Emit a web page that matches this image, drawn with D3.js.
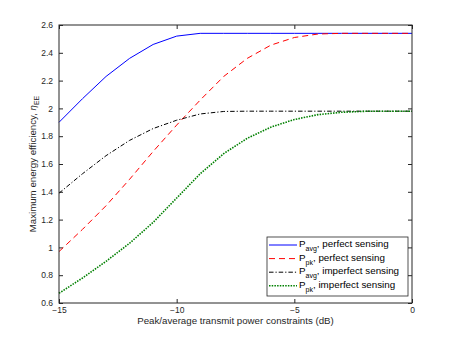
<!DOCTYPE html>
<html>
<head>
<meta charset="utf-8">
<script src="https://cdn.jsdelivr.net/npm/d3@7"></script>
<style>
  body { margin: 0; background: #fff; }
  svg { font-family: "Liberation Sans", Arial, sans-serif; }
</style>
</head>
<body>
<div id="chart"></div>
<script>
// Peak/average power constraint (dB) vs maximum energy efficiency

const xValues = [-15, -14, -13, -12, -11, -10, -9, -8, -7, -6, -5, -4, -3, -2, -1, 0];
const avgPerfect   = [1.90, 2.07, 2.23, 2.36, 2.46, 2.52, 2.54, 2.54, 2.54, 2.54, 2.54, 2.54, 2.54, 2.54, 2.54, 2.54];
const pkPerfect    = [0.97, 1.13, 1.30, 1.49, 1.69, 1.88, 2.06, 2.23, 2.36, 2.455, 2.51, 2.535, 2.54, 2.54, 2.54, 2.54];
const avgImperfect = [1.39, 1.53, 1.66, 1.77, 1.855, 1.915, 1.96, 1.978, 1.98, 1.98, 1.98, 1.98, 1.98, 1.98, 1.98, 1.98];
const pkImperfect  = [0.67, 0.78, 0.90, 1.03, 1.18, 1.355, 1.53, 1.675, 1.785, 1.865, 1.92, 1.955, 1.972, 1.979, 1.98, 1.98];

const xTicks = [-15, -10, -5, 0];
const yTicks = [0.6, 0.8, 1, 1.2, 1.4, 1.6, 1.8, 2, 2.2, 2.4, 2.6];

const series = [
    { sub: 'avg', label: ', perfect sensing',   values: avgPerfect,   color: '#0000ff', dash: null,          width: 1 },
    { sub: 'pk',  label: ', perfect sensing',   values: pkPerfect,    color: '#ff0000', dash: '6,4',         width: 1 },
    { sub: 'avg', label: ', imperfect sensing', values: avgImperfect, color: '#000000', dash: '4.5,2,1.2,2', width: 1 },
    { sub: 'pk',  label: ', imperfect sensing', values: pkImperfect,  color: '#008000', dash: '1.5,1.2',     width: 1.6 }
];

const width = 455, height = 341;
const margin = { top: 25, right: 43, bottom: 38, left: 59 };

const svg = d3.select('#chart').append('svg')
    .attr('width', width)
    .attr('height', height);

const x = d3.scaleLinear().domain([-15, 0]).range([margin.left, width - margin.right]);
const y = d3.scaleLinear().domain([0.6, 2.6]).range([height - margin.bottom, margin.top]);

const tickLen = 4;

// inward ticks on all sides, MATLAB style
const axisStyle = g => {
    g.select('.domain').remove();
    g.selectAll('.tick line').attr('stroke', '#262626');
    g.selectAll('.tick text').attr('fill', '#262626').style('font-size', '8.5px');
};

svg.append('g')
    .attr('transform', `translate(0,${y(0.6)})`)
    .call(d3.axisBottom(x).tickValues(xTicks).tickSize(-tickLen).tickPadding(3.5).tickFormat(d3.format('d')))
    .call(axisStyle);

svg.append('g')
    .attr('transform', `translate(0,${y(2.6)})`)
    .call(d3.axisTop(x).tickValues(xTicks).tickSize(-tickLen).tickFormat(''))
    .call(axisStyle);

svg.append('g')
    .attr('transform', `translate(${x(-15)},0)`)
    .call(d3.axisLeft(y).tickValues(yTicks).tickSize(-tickLen).tickPadding(6).tickFormat(d => d3.format('~g')(d)))
    .call(axisStyle);

svg.append('g')
    .attr('transform', `translate(${x(0)},0)`)
    .call(d3.axisRight(y).tickValues(yTicks).tickSize(-tickLen).tickFormat(''))
    .call(axisStyle);

// lines, straight segments between samples
const line = vals => d3.line()
    .x((d, i) => x(xValues[i]))
    .y(d => y(d))(vals);

series.forEach(s => {
    svg.append('path')
        .attr('d', line(s.values))
        .attr('fill', 'none')
        .attr('stroke', s.color)
        .attr('stroke-width', s.width)
        .attr('stroke-dasharray', s.dash);
});

// plot box
svg.append('rect')
    .attr('x', x(-15))
    .attr('y', y(2.6))
    .attr('width', x(0) - x(-15))
    .attr('height', y(0.6) - y(2.6))
    .attr('fill', 'none')
    .attr('stroke', '#262626')
    .attr('stroke-width', 1);

// legend
const legend = svg.append('g').attr('transform', 'translate(267,237)');
legend.append('rect')
    .attr('width', 141)
    .attr('height', 59)
    .attr('fill', '#fff')
    .attr('stroke', '#262626')
    .attr('stroke-width', 0.8);

series.forEach((s, i) => {
    const ry = 8 + i * 13.6;
    legend.append('line')
        .attr('x1', 2).attr('x2', 30)
        .attr('y1', ry).attr('y2', ry)
        .attr('stroke', s.color)
        .attr('stroke-width', s.width)
        .attr('stroke-dasharray', s.dash);
    const t = legend.append('text')
        .attr('x', 32)
        .attr('y', ry + 2)
        .attr('fill', '#000')
        .style('font-size', '9.8px');
    t.append('tspan').text('P');
    t.append('tspan').attr('dy', 4).style('font-size', '7px').text(s.sub);
    t.append('tspan').attr('dy', -4).text(s.label);
});

// axis labels
svg.append('text')
    .attr('x', (x(-15) + x(0)) / 2)
    .attr('y', 324)
    .attr('text-anchor', 'middle')
    .attr('fill', '#262626')
    .style('font-size', '9.7px')
    .text('Peak/average transmit power constraints (dB)');

const yl = svg.append('text')
    .attr('transform', `translate(36,${(y(0.6) + y(2.6)) / 2}) rotate(-90)`)
    .attr('text-anchor', 'middle')
    .attr('fill', '#262626')
    .style('font-size', '9.7px');
yl.append('tspan').text('Maximum energy efficiency, ');
yl.append('tspan').style('font-style', 'italic').text('\u03b7');
yl.append('tspan').attr('dy', 3).style('font-size', '7px').text('EE');
</script>
</body>
</html>
